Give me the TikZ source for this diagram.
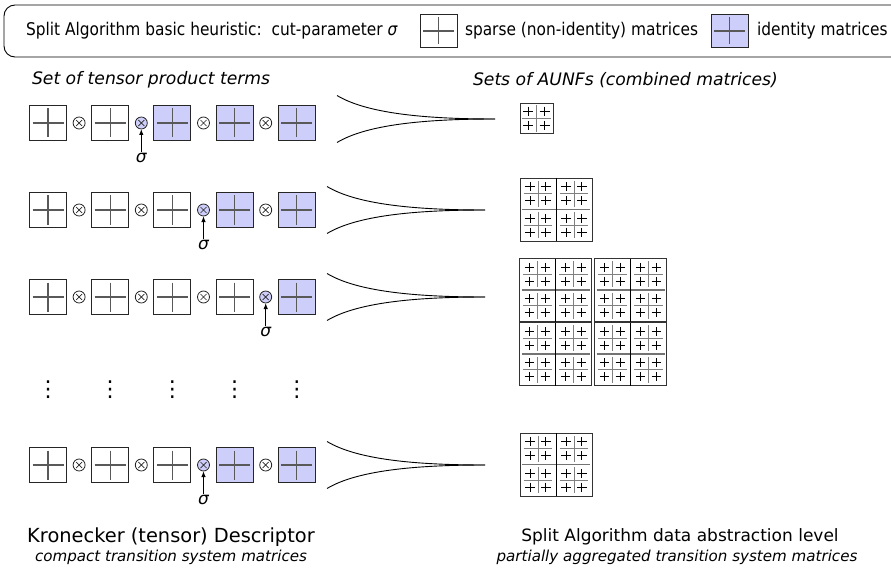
\documentclass[tikz,border=0pt]{standalone}
\usepackage{fontspec}
\setmainfont{DejaVu Sans}
\newfontfamily\legendfont{DejaVu Sans}[FakeStretch=0.88]
\usetikzlibrary{arrows, arrows.meta, positioning}

\definecolor{identblue}{RGB}{206,206,250}

\newcommand{\headfont}{\fontsize{17.2}{20}\selectfont\itshape}
\newcommand{\titlefont}{\fontsize{19.4}{22}\selectfont}
\newcommand{\subfont}{\fontsize{15.1}{18}\selectfont\itshape}
\newcommand{\keyfont}{\legendfont\fontsize{17.5}{20}\selectfont}

% 2x2 block of little sparse patterns round the scope origin
\newcommand{\plusquad}{%
  \draw[black!50, line width=1pt] (-15.5,0) -- (15.5,0) (0,-14) -- (0,14);
  \foreach \px in {-8.5,8.5}
    \foreach \py in {-7.5,7.5}
      \draw[line width=0.9pt] (\px-5.2,\py) -- (\px+5.2,\py) (\px,\py-5) -- (\px,\py+5);
}

% smallest AUNF: one boxed quad
\newcommand{\aunfone}[1]{%
  \begin{scope}[shift={#1}]
    \draw[line width=0.9pt, black!80] (-16.5,-15) rectangle (16.5,15);
    \begin{scope}[scale=0.95] \plusquad \end{scope}
  \end{scope}}

% next level: four quads in one box
\newcommand{\aunftwo}[1]{%
  \begin{scope}[shift={#1}]
    \draw[line width=0.9pt, black!80] (-36,-31.5) rectangle (36,31.5);
    \draw[black!55, line width=1.1pt] (-34,0) -- (34,0);
    \draw[line width=0.9pt] (0,-31.5) -- (0,31.5);
    \foreach \qx in {-18,18}
      \foreach \qy in {-15.75,15.75}
        {\begin{scope}[shift={(\qx,\qy)}, scale=0.92] \plusquad \end{scope}}
  \end{scope}}

% top level: four boxed second levels
\newcommand{\aunfthree}[1]{%
  \begin{scope}[shift={#1}]
    \foreach \bx in {-37.5,37.5}
      \foreach \by in {-32,32}
        {\aunftwo{(\bx,\by)}}
  \end{scope}}

\begin{document}
\begin{tikzpicture}[x=1pt, y=-1pt, node distance=6.6pt, >={Latex[length=6pt, width=4.5pt]}]
\tikzset{every node/.style={inner sep=0pt, outer sep=0pt}}

\tikzstyle{mat}=[draw=black!85, line width=0.9pt, minimum width=37pt, minimum height=35pt,
  path picture={\draw[black!65, line width=1.1pt]
    ([xshift=3pt]path picture bounding box.west) -- ([xshift=-3pt]path picture bounding box.east)
    ([yshift=-3pt]path picture bounding box.north) -- ([yshift=3pt]path picture bounding box.south);}]
\tikzstyle{sparse}=[mat, fill=white]
\tikzstyle{ident}=[mat, fill=identblue]
\tikzstyle{kron}=[circle, draw=black!85, line width=0.8pt, minimum size=12pt,
  path picture={\draw[line width=0.7pt]
    ([shift={(-3pt,-3pt)}]path picture bounding box.center) -- ([shift={(3pt,3pt)}]path picture bounding box.center)
    ([shift={(-3pt,3pt)}]path picture bounding box.center) -- ([shift={(3pt,-3pt)}]path picture bounding box.center);}]
\tikzstyle{sigma}=[font=\fontsize{17}{20}\selectfont\itshape, inner sep=1pt]
\tikzstyle{funnel}=[line width=0.9pt]
\tikzset{matbox/.code={\ifnum#1>\cutat\relax\pgfkeysalso{ident}\else\pgfkeysalso{sparse}\fi},
         kronat/.code={\ifnum#1=\cutat\relax\pgfkeysalso{kron, fill=identblue}\else\pgfkeysalso{kron}\fi}}

\useasboundingbox (0,0) rectangle (891,572);

% key line
\draw[line width=0.9pt, rounded corners=11pt] (4,5) rectangle (920,57);
\node[font=\keyfont, anchor=west] (key head) at (26,31) {Split Algorithm basic heuristic:\ \ cut-parameter \textit{σ}};
\node[sparse, minimum height=33pt] (key sparse) at (438.5,31) {};
\node[font=\keyfont, anchor=west] (key sparse text) at (465,31) {sparse (non-identity) matrices};
\node[ident, minimum height=33pt] (key ident) at (729.5,31) {};
\node[font=\keyfont, anchor=west] (key ident text) at (757,31) {identity matrices};

\node[font=\headfont, anchor=west] (terms head) at (32,80) {Set of tensor product terms};
\node[font=\headfont, anchor=west] (aunf head) at (473,80) {Sets of AUNFs (combined matrices)};

% tensor product terms, cut at sigma
\foreach \row/\yy/\cutat in {1/123/2, 2/210/3, 3/297/4, 5/465/3} {
  \node[matbox=1] (m\row-1) at (48,\yy) {};
  \foreach \j [count=\k from 2] in {1,...,4} {
    \node[kronat=\j, right=of m\row-\j] (k\row-\j) {};
    \node[matbox=\k, right=of k\row-\j] (m\row-\k) {};
  }
  \node[sigma, below=23pt of k\row-\cutat] (s\row) {σ};
  \draw[->, line width=1.1pt] (s\row) -- (k\row-\cutat);
}

\foreach \j in {1,...,5}
  \node[font=\fontsize{22}{22}\selectfont] (dots\j) at ([yshift=-93pt]m3-\j) {⋮};

% funnels into the combined matrices
\foreach \row/\fx/\fy in {1/337/119, 2/327/210, 3/327/297, 5/327/465} {
  \coordinate (f\row top) at (\fx,\fy-23.5);
  \coordinate (f\row bot) at (\fx,\fy+23.5);
  \coordinate (f\row tip) at (\fx+158,\fy);
  \draw[funnel] (f\row top) .. controls +(30,18) and +(-70,0) .. (f\row tip);
  \draw[funnel] (f\row bot) .. controls +(30,-18) and +(-70,0) .. (f\row tip);
}

\aunfone{(536.5,118.5)}
\aunftwo{(556,209.5)}
\aunfthree{(593,322)}
\aunftwo{(556,464.5)}

\node[font=\titlefont] (kron title) at (171,537) {Kronecker (tensor) Descriptor};
\node[font=\subfont] (kron sub) at (171,557) {compact transition system matrices};
\node[font=\fontsize{17}{20}\selectfont] (split title) at (680,537) {Split Algorithm data abstraction level};
\node[font=\subfont] (split sub) at (677,557) {partially aggregated transition system matrices};

\end{tikzpicture}
\end{document}
